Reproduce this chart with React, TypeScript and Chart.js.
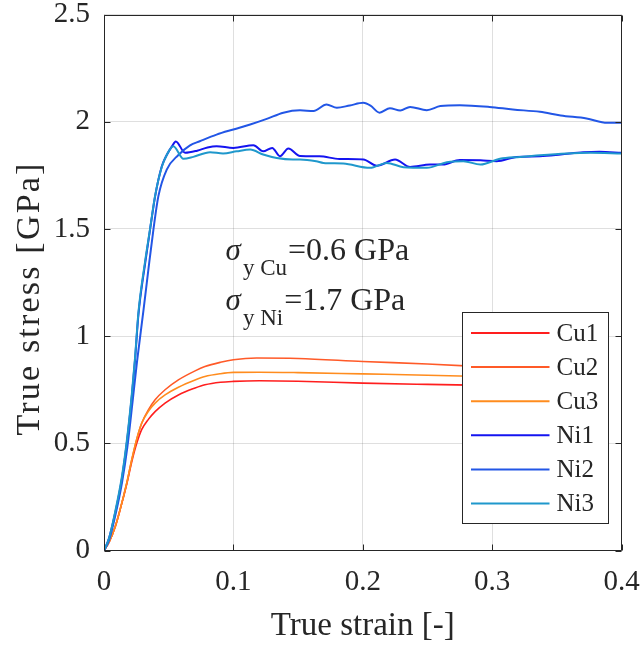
import React, { useEffect, useRef } from 'react';
import { Chart, registerables } from 'chart.js';

Chart.register(...registerables);

// ---------- data ----------
const seriesNames = ['Cu1', 'Cu2', 'Cu3', 'Ni1', 'Ni2', 'Ni3'];
const seriesColors = ['#ff1e1e', '#ff5a28', '#ff8c1e', '#1414f0', '#2256e6', '#1f98cc'];

const cu1Strain = [0, 0.004, 0.0086, 0.0124, 0.0176, 0.0215, 0.0253, 0.0292, 0.0343, 0.0395, 0.0472, 0.0575, 0.0704, 0.078, 0.09, 0.1, 0.12, 0.15, 0.2, 0.25, 0.3];
const cu1Stress = [0, 0.04, 0.11, 0.19, 0.31, 0.415, 0.5, 0.565, 0.612, 0.648, 0.688, 0.726, 0.758, 0.773, 0.785, 0.789, 0.792, 0.79, 0.781, 0.775, 0.77];

const cu2Strain = [0, 0.004, 0.0086, 0.0124, 0.0176, 0.0215, 0.0253, 0.0292, 0.0343, 0.0395, 0.0472, 0.0575, 0.0704, 0.078, 0.09, 0.1, 0.118, 0.15, 0.2, 0.25, 0.3];
const cu2Stress = [0, 0.04, 0.11, 0.19, 0.315, 0.425, 0.52, 0.595, 0.656, 0.703, 0.75, 0.796, 0.838, 0.858, 0.878, 0.89, 0.898, 0.896, 0.882, 0.87, 0.855];

const cu3Strain = [0, 0.004, 0.0086, 0.0124, 0.0176, 0.0215, 0.0253, 0.0292, 0.0343, 0.0395, 0.0472, 0.0575, 0.0704, 0.078, 0.09, 0.1, 0.12, 0.15, 0.2, 0.25, 0.3];
const cu3Stress = [0, 0.04, 0.11, 0.19, 0.315, 0.425, 0.52, 0.595, 0.65, 0.688, 0.726, 0.762, 0.796, 0.812, 0.825, 0.831, 0.832, 0.83, 0.824, 0.818, 0.81];

const ni1Strain = [0, 0.004, 0.0086, 0.0137, 0.0176, 0.0215, 0.024, 0.0266, 0.0318, 0.0356, 0.0395, 0.0447, 0.0485, 0.0525, 0.0555, 0.0627, 0.072, 0.08, 0.087, 0.1, 0.1155, 0.123, 0.13, 0.136, 0.1425, 0.1515, 0.1665, 0.182, 0.2005, 0.211, 0.225, 0.2366, 0.252, 0.262, 0.275, 0.291, 0.3035, 0.319, 0.337, 0.353, 0.3705, 0.383, 0.4];
const ni1Stress = [0, 0.06, 0.174, 0.33, 0.5, 0.718, 0.89, 1.1, 1.34, 1.497, 1.652, 1.792, 1.845, 1.885, 1.908, 1.855, 1.865, 1.88, 1.886, 1.878, 1.89, 1.862, 1.878, 1.839, 1.875, 1.84, 1.839, 1.826, 1.824, 1.795, 1.824, 1.789, 1.8, 1.8, 1.822, 1.82, 1.816, 1.836, 1.839, 1.847, 1.858, 1.86, 1.855];

const ni2Strain = [0, 0.004, 0.0086, 0.014, 0.018, 0.022, 0.0255, 0.0305, 0.0343, 0.0382, 0.042, 0.0485, 0.0575, 0.0665, 0.074, 0.087, 0.1, 0.113, 0.1258, 0.1386, 0.1515, 0.162, 0.172, 0.18, 0.19, 0.2005, 0.206, 0.213, 0.221, 0.229, 0.2366, 0.2495, 0.26, 0.275, 0.298, 0.316, 0.337, 0.353, 0.373, 0.389, 0.4];
const ni2Stress = [0, 0.05, 0.16, 0.32, 0.48, 0.69, 0.88, 1.12, 1.31, 1.497, 1.652, 1.777, 1.845, 1.89, 1.909, 1.94, 1.964, 1.987, 2.013, 2.042, 2.053, 2.05, 2.08, 2.065, 2.076, 2.088, 2.075, 2.042, 2.063, 2.052, 2.069, 2.054, 2.073, 2.077, 2.069, 2.057, 2.046, 2.029, 2.015, 1.995, 1.995];

const ni3Strain = [0, 0.004, 0.0086, 0.0137, 0.0176, 0.0215, 0.024, 0.0266, 0.0318, 0.0356, 0.0395, 0.0447, 0.0485, 0.0536, 0.0614, 0.069, 0.082, 0.092, 0.1026, 0.113, 0.123, 0.1335, 0.146, 0.1515, 0.164, 0.1696, 0.185, 0.2056, 0.2186, 0.2314, 0.2495, 0.265, 0.2778, 0.291, 0.306, 0.3215, 0.337, 0.3576, 0.3757, 0.4];
const ni3Stress = [0, 0.06, 0.18, 0.34, 0.51, 0.73, 0.9, 1.11, 1.35, 1.5, 1.655, 1.79, 1.845, 1.886, 1.827, 1.836, 1.858, 1.852, 1.862, 1.87, 1.847, 1.831, 1.824, 1.824, 1.816, 1.808, 1.805, 1.785, 1.808, 1.788, 1.785, 1.811, 1.816, 1.8, 1.827, 1.836, 1.844, 1.852, 1.855, 1.852];

const strains = [cu1Strain, cu2Strain, cu3Strain, ni1Strain, ni2Strain, ni3Strain];
const stresses = [cu1Stress, cu2Stress, cu3Stress, ni1Stress, ni2Stress, ni3Stress];
const lineWidths = [1.6, 1.6, 1.6, 2, 2, 2];

const xTicks = [0, 0.1, 0.2, 0.3, 0.4];
const xTickLabels = ['0', '0.1', '0.2', '0.3', '0.4'];
const yTicks = [0, 0.5, 1, 1.5, 2, 2.5];
const yTickLabels = ['0', '0.5', '1', '1.5', '2', '2.5'];

const xTitle = 'True strain [-]';
const yTitle = 'True stress [GPa]';
const annoSymbol = 'σ';
const annoSubs = ['y Cu', 'y Ni'];
const annoValues = ['=0.6 GPa', '=1.7 GPa'];

const FONT = '"Liberation Serif", "Times New Roman", serif';
const INK = '#262626';

// ---------- plugins ----------
const framePlugin = {
  id: 'frame',
  afterDatasetsDraw(chart: any) {
    const { ctx, chartArea: a, scales } = chart;
    ctx.save();
    ctx.strokeStyle = INK;
    ctx.lineWidth = 1;
    const L = Math.round(a.left) + 0.5;
    const R = Math.round(a.right) - 0.5;
    const T = Math.round(a.top) + 0.5;
    const B = Math.round(a.bottom) - 0.5;
    ctx.beginPath();
    ctx.rect(L, T, R - L, B - T);
    const tk = 6;
    xTicks.forEach((v) => {
      const px = Math.round(scales.x.getPixelForValue(v)) + 0.5;
      ctx.moveTo(px, B); ctx.lineTo(px, B - tk);
      ctx.moveTo(px, T); ctx.lineTo(px, T + tk);
    });
    yTicks.forEach((v) => {
      const py = Math.round(scales.y.getPixelForValue(v)) + 0.5;
      ctx.moveTo(L, py); ctx.lineTo(L + tk, py);
      ctx.moveTo(R, py); ctx.lineTo(R - tk, py);
    });
    ctx.stroke();
    ctx.restore();
  },
};

const titlesPlugin = {
  id: 'titles',
  afterDraw(chart: any) {
    const { ctx, chartArea: a } = chart;
    ctx.save();
    ctx.fillStyle = INK;
    ctx.textAlign = 'center';
    // x title
    ctx.font = `33px ${FONT}`;
    ctx.textBaseline = 'alphabetic';
    ctx.fillText(xTitle, (a.left + a.right) / 2, a.bottom + 84);
    // y title
    ctx.translate(30, a.top + 284);
    ctx.rotate(-Math.PI / 2);
    ctx.font = `34px ${FONT}`;
    (ctx as any).letterSpacing = '2.2px';
    ctx.textBaseline = 'middle';
    ctx.fillText(yTitle, 0, 0);
    ctx.restore();
  },
};

const annotationPlugin = {
  id: 'anno',
  afterDatasetsDraw(chart: any) {
    const { ctx, scales } = chart;
    const x0 = scales.x.getPixelForValue(0.094);
    const baselines = [scales.y.getPixelForValue(1.357), scales.y.getPixelForValue(1.123)];
    ctx.save();
    ctx.fillStyle = INK;
    ctx.textBaseline = 'alphabetic';
    ctx.textAlign = 'left';
    baselines.forEach((by, i) => {
      let x = x0;
      ctx.font = `italic 31px ${FONT}`;
      ctx.fillText(annoSymbol, x, by);
      x += ctx.measureText(annoSymbol).width + 2;
      ctx.font = `23px ${FONT}`;
      ctx.fillText(annoSubs[i], x, by + 15);
      x += ctx.measureText(annoSubs[i]).width + 1;
      ctx.font = `32px ${FONT}`;
      ctx.fillText(annoValues[i], x, by);
    });
    ctx.restore();
  },
};

const legendPlugin = {
  id: 'boxLegend',
  afterDatasetsDraw(chart: any) {
    const { ctx, chartArea: a } = chart;
    const right = Math.round(a.right - 13.5) + 0.5;
    const bottom = Math.round(a.bottom - 28) + 0.5;
    const w = 146;
    const h = 211;
    const left = right - w;
    const top = bottom - h;
    ctx.save();
    ctx.fillStyle = '#ffffff';
    ctx.fillRect(left, top, w, h);
    ctx.strokeStyle = INK;
    ctx.lineWidth = 1;
    ctx.strokeRect(left, top, w, h);
    ctx.font = `25px ${FONT}`;
    ctx.textBaseline = 'middle';
    ctx.textAlign = 'left';
    seriesNames.forEach((name, i) => {
      const y = top + 20.5 + i * 34.1;
      ctx.strokeStyle = seriesColors[i];
      ctx.lineWidth = 2;
      ctx.beginPath();
      ctx.moveTo(left + 8.5, y);
      ctx.lineTo(left + 87, y);
      ctx.stroke();
      ctx.fillStyle = INK;
      ctx.fillText(name, left + 94, y + 1);
    });
    ctx.restore();
  },
};

export default function App() {
  const ref = useRef<HTMLCanvasElement | null>(null);

  useEffect(() => {
    if (!ref.current) return;
    const datasets = seriesNames.map((name, i) => ({
      label: name,
      data: strains[i].map((s, j) => ({ x: s, y: stresses[i][j] })),
      borderColor: seriesColors[i],
      backgroundColor: seriesColors[i],
      borderWidth: lineWidths[i],
      pointRadius: 0,
      fill: false,
      cubicInterpolationMode: 'monotone' as const,
      order: seriesNames.length - i,
    }));

    const chart = new Chart(ref.current, {
      type: 'line',
      data: { datasets },
      plugins: [framePlugin, annotationPlugin, legendPlugin, titlesPlugin],
      options: {
        animation: false,
        responsive: false,
        devicePixelRatio: 1,
        layout: { padding: { left: 0, right: 21.5, top: 14.5, bottom: 0 } },
        plugins: { legend: { display: false }, tooltip: { enabled: false } },
        scales: {
          x: {
            type: 'linear',
            min: 0,
            max: 0.4,
            afterBuildTicks: (s: any) => { s.ticks = xTicks.map((v) => ({ value: v })); },
            afterFit: (s: any) => { s.height = 95.4; s.paddingLeft = 0; s.paddingRight = 0; },
            ticks: {
              callback: (_v: any, i: number) => xTickLabels[i],
              font: { family: FONT, size: 29 },
              color: INK,
              padding: 14,
              maxRotation: 0,
            },
            grid: { color: 'rgba(38,38,38,0.15)', lineWidth: 1, drawTicks: false },
            border: { display: false },
            title: { display: false },
          },
          y: {
            type: 'linear',
            min: 0,
            max: 2.5,
            afterBuildTicks: (s: any) => { s.ticks = yTicks.map((v) => ({ value: v })); },
            afterFit: (s: any) => { s.width = 104; s.paddingTop = 0; s.paddingBottom = 0; },
            ticks: {
              callback: (_v: any, i: number) => yTickLabels[i],
              font: { family: FONT, size: 29 },
              color: INK,
              padding: 14,
            },
            grid: { color: 'rgba(38,38,38,0.15)', lineWidth: 1, drawTicks: false },
            border: { display: false },
            title: { display: false },
          },
        },
      },
    });
    return () => chart.destroy();
  }, []);

  return (
    <div style={{ position: 'absolute', left: 0, top: 0, width: 643, height: 646, background: '#fff' }}>
      <canvas ref={ref} width={643} height={646} style={{ display: 'block' }} />
    </div>
  );
}
